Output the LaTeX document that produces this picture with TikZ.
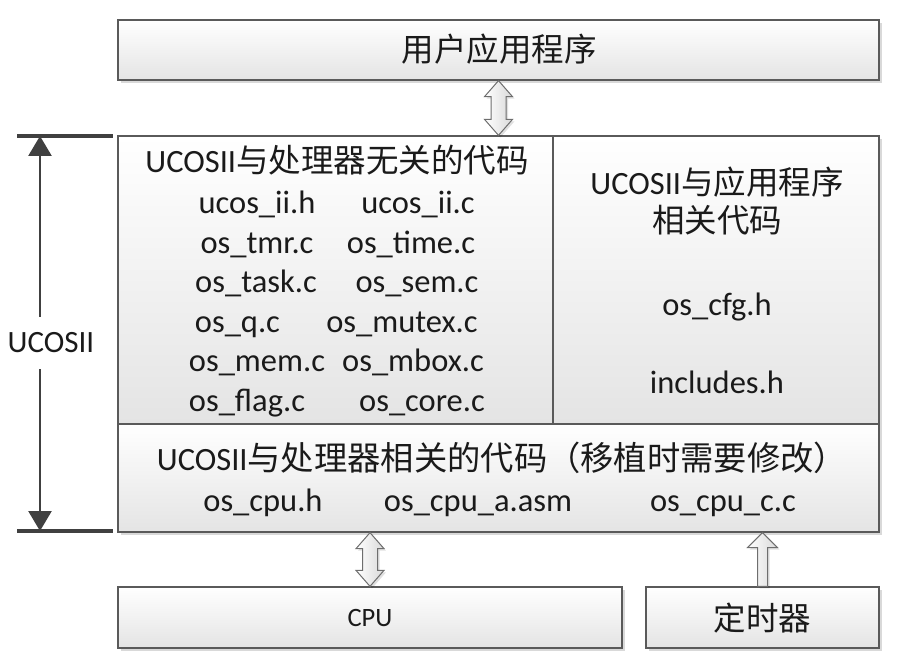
\documentclass[tikz,border=0pt]{standalone}
\usepackage{fontspec}
\setmainfont{Carlito}
\newfontfamily\cjk{Noto Sans CJK SC}
\usetikzlibrary{calc,positioning,shadows,arrows.meta}
\definecolor{boxline}{HTML}{5A5A5A}
\definecolor{boxshade}{HTML}{E4E4E4}
\definecolor{txt}{HTML}{1A1A1A}
\definecolor{barcol}{HTML}{404040}
\definecolor{arrowline}{HTML}{6E6E6E}

\begin{document}
\begin{tikzpicture}[x=1pt, y=-1pt,
  every node/.style={font=\fontsize{32.5}{38}\selectfont, text=txt, inner sep=0pt},
  box/.style={draw=boxline, line width=1.3pt, top color=white, bottom color=boxshade,
    drop shadow={shadow xshift=3pt, shadow yshift=-3pt, opacity=.15, fill=black}},
  lbl/.style={anchor=base},
  blockarrow/.style={draw=arrowline, line width=1pt, left color=white, right color=gray!30,
    drop shadow={shadow xshift=2pt, shadow yshift=-2pt, opacity=.12, fill=black}},
  dblarrow/.style={blockarrow, to path={let \p1=(\tikztostart), \p2=(\tikztotarget) in
    (\x1,\y1) -- (\x1+14pt,\y1-16pt) -- (\x1+7.5pt,\y1-16pt) -- (\x1+7.5pt,\y2+16pt)
    -- (\x1+14pt,\y2+16pt) -- (\x1,\y2) -- (\x1-14pt,\y2+16pt) -- (\x1-7.5pt,\y2+16pt)
    -- (\x1-7.5pt,\y1-16pt) -- (\x1-14pt,\y1-16pt) -- cycle}},
  uparrow/.style={blockarrow, to path={let \p1=(\tikztostart), \p2=(\tikztotarget) in
    (\x1-5pt,\y1) -- (\x1-5pt,\y2-15pt) -- (\x1-15pt,\y2-15pt) -- (\x1,\y2)
    -- (\x1+15pt,\y2-15pt) -- (\x1+5pt,\y2-15pt) -- (\x1+5pt,\y1) -- cycle}},
  bar/.style={barcol, line width=4pt},
  dimline/.style={barcol, line width=2.6pt, -{Triangle[width=23pt,length=20pt]}}]
  \useasboundingbox (0,0) rectangle (915,660);

  % === Boxes ===
  \node[box, minimum width=761pt, minimum height=60pt]  (app)    at (498.5,50)    {};
  \node[box, minimum width=435pt, minimum height=288pt] (indep)  at (335.5,280)   {};
  \node[box, minimum width=326pt, minimum height=288pt] (appcfg) at (716,280)     {};
  \node[box, minimum width=761pt, minimum height=108pt] (port)   at (498.5,478)   {};
  \node[box, minimum width=504pt, minimum height=61pt]  (cpu)    at (370,617.5)   {};
  \node[box, minimum width=233pt, minimum height=61pt]  (timer)  at (762.5,617.5) {};

  % --- block arrows ---
  \draw[dblarrow] (app.south) to (app.south |- indep.north);
  \draw[dblarrow] (port.south -| cpu.north) to (cpu.north);
  \draw[uparrow]  (timer.north) to (timer.north |- port.south);

  % === Texts ===
  \node[lbl] (appT) at (499,62) {\cjk 用户应用程序};

  % left: processor independent code
  \node[lbl] (indepT) at (337,173) {UCOSII{\cjk 与处理器无关的代码}};
  \foreach \lf/\lx/\rf/\rx [count=\i] in
    {ucos\_ii.h/257/ucos\_ii.c/418, os\_tmr.c/257/os\_time.c/411,
     os\_task.c/256/os\_sem.c/417, os\_q.c/237.5/os\_mutex.c/402,
     os\_mem.c/257/os\_mbox.c/413, os\_flag.c/247/os\_core.c/422}{
    \node[lbl] (indepL\i) at (\lx,174.6+39.4*\i) {\lf};
    \node[lbl] (indepR\i) at (\rx,174.6+39.4*\i) {\rf};
  }

  % right: application related code
  \node[lbl] (appcfgT1) at (717,195) {UCOSII{\cjk 与应用程序}};
  \node[lbl] (appcfgT2) at (717,233) {\cjk 相关代码};
  \node[lbl] (cfgh) at (717,315) {os\_cfg.h};
  \node[lbl] (inch) at (717,393) {includes.h};

  % bottom: processor dependent code
  \node[lbl] (portT) at (502,470)
    {UCOSII{\cjk\fontsize{33.3}{40}\selectfont 与处理器相关的代码（移植时需要修改）}};
  \foreach \f/\x [count=\i] in {os\_cpu.h/263, os\_cpu\_a.asm/478, os\_cpu\_c.c/723}{
    \node[lbl] (portF\i) at (\x,511) {\f};
  }

  \node[lbl, font=\fontsize{26.5}{30}\selectfont] (cpuT) at (370,626) {CPU};
  \node[lbl] (timerT) at (762.5,630) {\cjk 定时器};

  % === UCOSII range ===
  \coordinate (ucT) at (40,136);
  \coordinate (ucB) at (40,531);
  \node[font=\fontsize{31}{36}\selectfont, inner ysep=16pt] (uclabel) at (51,343) {UCOSII};
  \draw[dimline] (uclabel.north -| ucT) -- (ucT);
  \draw[dimline] (uclabel.south -| ucB) -- (ucB);
  \draw[bar] (17,136) -- (113,136);
  \draw[bar] (17,531) -- (113,531);
\end{tikzpicture}
\end{document}
